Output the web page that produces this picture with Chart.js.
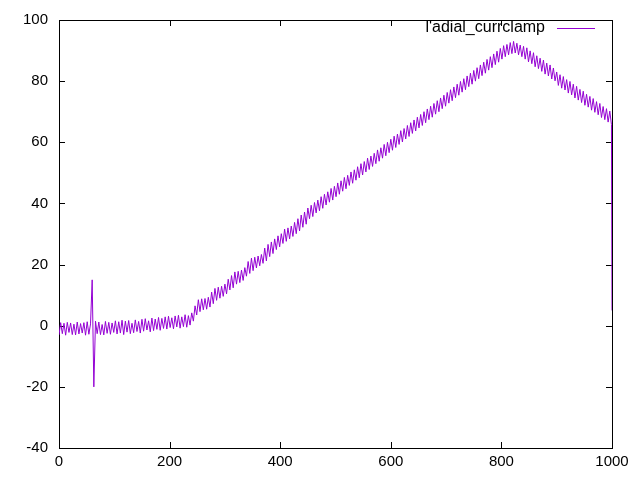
<!DOCTYPE html>
<html>
<head>
<meta charset="utf-8">
<script src="https://cdn.jsdelivr.net/npm/chart.js@4/dist/chart.umd.min.js"></script>
<style>
  html, body { margin: 0; padding: 0; background: #fff; }
  #wrap { width: 640px; height: 480px; }
</style>
</head>
<body>
<div id="wrap"><canvas id="plot" width="640" height="480"></canvas></div>
<script>
// series name as shown in the key
const seriesName = "l'adial_currclamp";

// axis ticks
const xTicks = [0, 200, 400, 600, 800, 1000];
const yTicks = [-40, -20, 0, 20, 40, 60, 80, 100];

// sample positions
const xs = [
  0, 3, 6, 9, 12, 15, 18, 21, 24, 27,
  30, 33, 36, 39, 42, 45, 48, 51, 54, 57,
  60, 63, 66, 69, 72, 75, 78, 81, 84, 87,
  90, 93, 96, 99, 102, 105, 108, 111, 114, 117,
  120, 123, 126, 129, 132, 135, 138, 141, 144, 147,
  150, 153, 156, 159, 162, 165, 168, 171, 174, 177,
  180, 183, 186, 189, 192, 195, 198, 201, 204, 207,
  210, 213, 216, 219, 222, 225, 228, 231, 234, 237,
  240, 243, 246, 249, 252, 255, 258, 261, 264, 267,
  270, 273, 276, 279, 282, 285, 288, 291, 294, 297,
  300, 303, 306, 309, 312, 315, 318, 321, 324, 327,
  330, 333, 336, 339, 342, 345, 348, 351, 354, 357,
  360, 363, 366, 369, 372, 375, 378, 381, 384, 387,
  390, 393, 396, 399, 402, 405, 408, 411, 414, 417,
  420, 423, 426, 429, 432, 435, 438, 441, 444, 447,
  450, 453, 456, 459, 462, 465, 468, 471, 474, 477,
  480, 483, 486, 489, 492, 495, 498, 501, 504, 507,
  510, 513, 516, 519, 522, 525, 528, 531, 534, 537,
  540, 543, 546, 549, 552, 555, 558, 561, 564, 567,
  570, 573, 576, 579, 582, 585, 588, 591, 594, 597,
  600, 603, 606, 609, 612, 615, 618, 621, 624, 627,
  630, 633, 636, 639, 642, 645, 648, 651, 654, 657,
  660, 663, 666, 669, 672, 675, 678, 681, 684, 687,
  690, 693, 696, 699, 702, 705, 708, 711, 714, 717,
  720, 723, 726, 729, 732, 735, 738, 741, 744, 747,
  750, 753, 756, 759, 762, 765, 768, 771, 774, 777,
  780, 783, 786, 789, 792, 795, 798, 801, 804, 807,
  810, 813, 816, 819, 822, 825, 828, 831, 834, 837,
  840, 843, 846, 849, 852, 855, 858, 861, 864, 867,
  870, 873, 876, 879, 882, 885, 888, 891, 894, 897,
  900, 903, 906, 909, 912, 915, 918, 921, 924, 927,
  930, 933, 936, 939, 942, 945, 948, 951, 954, 957,
  960, 963, 966, 969, 972, 975, 978, 981, 984, 987,
  990, 993, 996, 999, 1000
];

// measured current, one value per sample above
const ys = [
  -3, 1, -2.6, 0.8, -3.1, 1.1, -2.2, 0.9, -2.9, 0.5,
  -3, 1.2, -2.7, 0.7, -2.4, 1, -3.1, 1.3, -2.8, 0.6,
  15, -20, 1.5, -2.6, 1.2, -2.9, 0.4, -3, 1.4, -2.5,
  1.1, -2.8, 0.9, -2.2, 1.6, -2.7, 1.3, -2.4, 1.8, -2.9,
  1.5, -2.1, 1.7, -2.6, 0.8, -2.3, 1.9, -1.9, 1.4, -2.4,
  2.1, -1.8, 2.3, -1.4, 1.6, -2, 2.5, -1.6, 2.2, -1.2,
  2.7, -1.5, 2.4, -0.9, 2.9, -1.1, 3.1, -0.6, 2.6, -1,
  3.2, -0.4, 3.4, -0.8, 2.9, -0.3, 3.6, -0.5, 3.3, 0.2,
  4.2, 1.5, 6.5, 3.5, 8.5, 4.6, 8.8, 5.2, 8.9, 5.4,
  9.3, 6.1, 11, 7.2, 12.2, 8.3, 12.6, 9, 12.9, 9.6,
  13.6, 10.4, 15.2, 11.7, 16.4, 12.4, 17.6, 13.6, 17.8, 14.1,
  18.2, 14.8, 19, 16.2, 21, 17.1, 22.1, 18, 22.4, 18.9,
  22.8, 19.6, 23.3, 20.4, 25.4, 21.2, 26.6, 22.6, 27.4, 23.6,
  28.4, 24.9, 29.4, 25.8, 30.1, 26.9, 31.6, 27.6, 32, 28.4,
  32.6, 29.2, 33.8, 30.1, 35, 31, 36.2, 32.2, 37.2, 33.2,
  38.5, 35, 39.4, 35.7, 40.3, 36.9, 41.1, 37.6, 42.2, 38.4,
  43, 39.5, 43.8, 40.4, 44.9, 41.1, 45.6, 42.2, 46.7, 43,
  47.4, 44, 48.5, 44.8, 49.2, 45.9, 50.3, 46.6, 51, 47.6,
  52, 48.4, 53, 49.3, 53.7, 50.3, 54.8, 51.1, 55.5, 52.1,
  56.4, 53, 57.5, 53.8, 58.2, 54.8, 59.3, 55.6, 60, 56.6,
  61, 57.4, 62, 58.3, 62.7, 59.3, 63.8, 60.1, 64.5, 61.1,
  65.5, 61.9, 66.4, 62.9, 67.3, 63.7, 68.2, 64.7, 69.1, 65.5,
  70, 66.4, 70.9, 67.4, 71.8, 68.2, 72.7, 69.2, 73.6, 70,
  74.5, 71, 75.4, 71.8, 76.3, 72.8, 77.2, 73.6, 78.1, 74.6,
  79, 75.4, 79.9, 76.4, 80.8, 77.2, 81.7, 78.2, 82.6, 79,
  83.5, 80, 84.4, 80.8, 85.3, 81.8, 86.2, 82.6, 87.1, 83.6,
  88, 84.4, 88.9, 85.4, 89.8, 86.2, 90.7, 87.2, 91.6, 88,
  92, 88.6, 92.6, 89, 93, 89.2, 92.4, 88.6, 91.8, 88,
  91.4, 87.2, 90.9, 86.3, 89.9, 85.7, 89.3, 84.7, 88.3, 84.1,
  87.5, 83.2, 86.9, 82.3, 85.9, 81.7, 85.3, 80.7, 84.3, 80.1,
  83, 78.6, 82.1, 77.7, 81.5, 77.1, 80.5, 76.1, 79.9, 75.5,
  79, 74.5, 78.3, 73.8, 77.3, 73, 76.7, 72.1, 75.7, 71.5,
  75, 70.5, 74.3, 69.8, 73.3, 69, 72.7, 68.1, 71.7, 67.4,
  71, 66.6, 70.2, 65.8, 5
];

const points = xs.map((x, i) => ({ x: x, y: ys[i] }));

const tickFont = { family: '"Liberation Sans", Arial, sans-serif', size: 15 };

// gnuplot style frame: full box with inward ticks on all four sides
const framePlugin = {
  id: 'frame',
  beforeDatasetsDraw(chart) {
    const { ctx, chartArea: a, scales } = chart;
    const t = 6;
    ctx.save();
    ctx.strokeStyle = '#000';
    ctx.lineWidth = 1;
    ctx.beginPath();
    xTicks.forEach(v => {
      const px = Math.round(scales.x.getPixelForValue(v)) + 0.5;
      ctx.moveTo(px, a.bottom); ctx.lineTo(px, a.bottom - t);
      ctx.moveTo(px, a.top); ctx.lineTo(px, a.top + t);
    });
    yTicks.forEach(v => {
      const py = Math.round(scales.y.getPixelForValue(v)) + 0.5;
      ctx.moveTo(a.left, py); ctx.lineTo(a.left + t, py);
      ctx.moveTo(a.right, py); ctx.lineTo(a.right - t, py);
    });
    ctx.stroke();
    ctx.strokeRect(Math.round(a.left) + 0.5, Math.round(a.top) + 0.5,
      Math.round(a.right - a.left), Math.round(a.bottom - a.top));
    ctx.restore();
  },
  afterDatasetsDraw(chart) {
    // key in the top right corner
    const { ctx, chartArea: a } = chart;
    const y = Math.round(a.top + 8);
    ctx.save();
    ctx.font = '16px "Liberation Sans", Arial, sans-serif';
    ctx.fillStyle = '#000';
    ctx.textAlign = 'right';
    ctx.textBaseline = 'middle';
    ctx.fillText(seriesName, a.right - 67, y);
    ctx.strokeStyle = '#9400d3';
    ctx.lineWidth = 1.2;
    ctx.beginPath();
    ctx.moveTo(Math.round(a.right - 55), y + 0.5);
    ctx.lineTo(Math.round(a.right - 17), y + 0.5);
    ctx.stroke();
    ctx.restore();
  }
};

new Chart(document.getElementById('plot').getContext('2d'), {
  type: 'line',
  data: {
    datasets: [{
      label: seriesName,
      data: points,
      borderColor: '#9400d3',
      borderWidth: 1,
      pointRadius: 0,
      tension: 0,
      fill: false
    }]
  },
  options: {
    responsive: false,
    animation: false,
    layout: { padding: { top: 16, right: 28, left: 0, bottom: 0 } },
    plugins: { legend: { display: false }, tooltip: { enabled: false } },
    scales: {
      x: {
        type: 'linear',
        min: 0, max: 1000,
        afterBuildTicks: s => { s.ticks = xTicks.map(v => ({ value: v })); },
        afterFit: s => { s.height = 32; },
        grid: { display: false, drawTicks: false },
        border: { display: false },
        ticks: {
          color: '#000', padding: 5, maxRotation: 0, font: tickFont,
          callback: v => String(v)
        }
      },
      y: {
        type: 'linear',
        min: -40, max: 100,
        afterBuildTicks: s => { s.ticks = yTicks.map(v => ({ value: v })); },
        afterFit: s => { s.width = 59; },
        grid: { display: false, drawTicks: false },
        border: { display: false },
        ticks: {
          color: '#000', padding: 11, font: tickFont,
          callback: v => String(v)
        }
      }
    }
  },
  plugins: [framePlugin]
});
</script>
</body>
</html>
